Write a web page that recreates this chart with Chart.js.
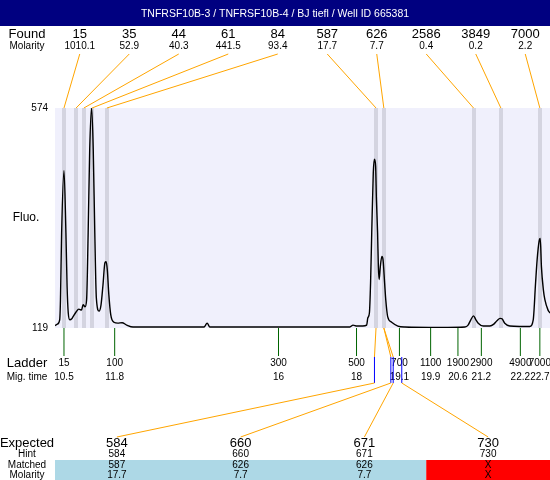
<!DOCTYPE html>
<html>
<head>
<meta charset="utf-8">
<script src="https://cdn.jsdelivr.net/npm/chart.js@4"></script>
<style>
  html, body { margin: 0; padding: 0; background: #fff; }
  #wrap { width: 550px; height: 480px; }
</style>
</head>
<body>
<div id="wrap"><canvas id="chart" width="550" height="480"></canvas></div>
<script>
const TITLE = 'TNFRSF10B-3 / TNFRSF10B-4 / BJ tiefl / Well ID 665381';

// found peaks
const foundSizes    = ['15', '35', '44', '61', '84', '587', '626', '2586', '3849', '7000'];
const foundMolarity = ['1010.1', '52.9', '40.3', '441.5', '93.4', '17.7', '7.7', '0.4', '0.2', '2.2'];
const foundTimes    = [10.50, 10.81, 11.01, 11.22, 11.60, 18.50, 18.70, 21.00, 21.70, 22.70];

// ladder
const ladderSizes = ['15', '100', '300', '500', '700', '1100', '1900', '2900', '4900', '7000'];
const ladderTimes = [10.5, 11.8, 16, 18, 19.1, 19.9, 20.6, 21.2, 22.2, 22.7];
const ladderLabels = ['10.5', '11.8', '16', '18', '19.1', '19.9', '20.6', '21.2', '22.2', '22.7'];

// expected fragments
const expectedSizes    = ['584', '660', '671', '730'];
const expectedHints    = ['584', '660', '671', '730'];
const expectedTimes    = [18.46, 18.88, 18.94, 19.16];
const matchedSizes     = ['587', '626', '626', 'X'];
const matchedMolarity  = ['17.7', '7.7', '7.7', 'X'];
const matchedTimes     = [18.50, 18.70, 18.70, null];

// electropherogram trace
const traceTimes = [
  10.27, 10.33, 10.39, 10.41, 10.44, 10.50, 10.55, 10.58, 10.61, 10.65,
  10.70, 10.73, 10.81, 10.88, 10.95, 10.99, 11.04, 11.08, 11.12, 11.16,
  11.21, 11.25, 11.29, 11.33, 11.40, 11.45, 11.50, 11.55, 11.58, 11.61,
  11.65, 11.70, 11.78, 11.88, 11.99, 12.11, 12.27, 14.09, 14.17, 14.24,
  17.83, 17.91, 18.01, 18.16, 18.26, 18.29, 18.33, 18.36, 18.39, 18.43,
  18.46, 18.49, 18.51, 18.54, 18.56, 18.58, 18.61, 18.65, 18.68, 18.72,
  18.75, 18.80, 18.90, 19.06, 19.24, 20.14, 20.78, 20.86, 20.93, 21.00,
  21.06, 21.12, 21.25, 21.42, 21.52, 21.60, 21.68, 21.73, 21.80, 21.93,
  22.18, 22.44, 22.53, 22.59, 22.63, 22.68, 22.71, 22.74, 22.79, 22.83,
  22.91, 22.96
];
const traceFluo = [
  124, 127, 136, 177, 316, 445, 316, 205, 150, 136,
  138, 142, 152, 158, 156, 167, 163, 177, 316, 489,
  574, 489, 316, 181, 154, 167, 208, 254, 256, 240,
  188, 146, 131, 129, 130, 125, 121, 121, 129, 121,
  121, 125, 123, 123, 125, 140, 150, 212, 316, 441,
  468, 453, 385, 316, 246, 219, 246, 267, 260, 212,
  177, 142, 131, 123, 121, 120, 121, 125, 136, 144,
  136, 129, 123, 123, 127, 134, 139, 138, 129, 123,
  122, 122, 136, 212, 260, 298, 304, 246, 198, 177,
  156, 150
];

const FONT = "'Liberation Sans', Arial, sans-serif";
const ORANGE = '#ffa500';

function txt(ctx, s, x, y, size, align, color) {
  ctx.font = size + 'px ' + FONT;
  ctx.textAlign = align || 'center';
  ctx.textBaseline = 'middle';
  ctx.fillStyle = color || '#000';
  ctx.fillText(s, x, y);
}

function line(ctx, x1, y1, x2, y2, color) {
  ctx.strokeStyle = color;
  ctx.lineWidth = 1;
  ctx.beginPath();
  ctx.moveTo(x1, y1);
  ctx.lineTo(x2, y2);
  ctx.stroke();
}

const backdrop = {
  id: 'backdrop',
  beforeDraw(chart) {
    const { ctx, chartArea: a, scales: { x } } = chart;
    ctx.save();
    ctx.fillStyle = '#fff';
    ctx.fillRect(0, 0, chart.width, chart.height);
    ctx.fillStyle = '#000080';
    ctx.fillRect(0, 0, chart.width, 26);
    txt(ctx, TITLE, chart.width / 2, 14, 10.5, 'center', '#fff');

    ctx.fillStyle = '#f0f0fc';
    ctx.fillRect(a.left, a.top, a.right - a.left, a.bottom - a.top);
    ctx.fillStyle = '#d4d4e0';
    foundTimes.forEach(t => {
      const px = Math.round(x.getPixelForValue(t));
      ctx.fillRect(px - 2, a.top, 4, a.bottom - a.top);
    });
    ctx.restore();
  }
};

const annotations = {
  id: 'annotations',
  afterDraw(chart) {
    const { ctx, chartArea: a, scales: { x } } = chart;
    const slot = (a.right - a.left) / foundSizes.length;
    ctx.save();

    // found row
    txt(ctx, 'Found', 27, 34, 13);
    txt(ctx, 'Molarity', 27, 46, 10);
    foundSizes.forEach((s, i) => {
      const cx = a.left + slot * (i + 0.5);
      txt(ctx, s, cx, 34, 13);
      txt(ctx, foundMolarity[i], cx, 46, 10);
      line(ctx, cx, 54, x.getPixelForValue(foundTimes[i]), a.top, ORANGE);
    });

    txt(ctx, 'Fluo.', 26, 218, 12);

    // ladder
    txt(ctx, 'Ladder', 27, 363, 13);
    txt(ctx, 'Mig. time', 27, 377, 10);
    ladderTimes.forEach((t, i) => {
      const px = x.getPixelForValue(t);
      line(ctx, px, a.bottom, px, 356, '#006400');
      txt(ctx, ladderSizes[i], px, 363, 10);
      txt(ctx, ladderLabels[i], px, 377, 10);
    });

    // expected / matched
    const col = (a.right - a.left) / expectedSizes.length;
    ctx.fillStyle = '#add8e6';
    ctx.fillRect(a.left, 460, col * 3, 20);
    ctx.fillStyle = '#ff0000';
    ctx.fillRect(a.left + col * 3, 460, col, 20);

    txt(ctx, 'Expected', 27, 443, 13);
    txt(ctx, 'Hint', 27, 454, 10);
    txt(ctx, 'Matched', 27, 465, 10);
    txt(ctx, 'Molarity', 27, 475, 10);

    expectedSizes.forEach((s, i) => {
      const cx = a.left + col * (i + 0.5);
      const ex = x.getPixelForValue(expectedTimes[i]);
      if (matchedTimes[i] !== null) {
        line(ctx, x.getPixelForValue(matchedTimes[i]), a.bottom, ex, 357, ORANGE);
      }
      line(ctx, ex, 357, ex, 383, '#0000ff');
      line(ctx, ex, 383, cx, 437, ORANGE);
      txt(ctx, s, cx, 443, 13);
      txt(ctx, expectedHints[i], cx, 454, 10);
      txt(ctx, matchedSizes[i], cx, 465, 10);
      txt(ctx, matchedMolarity[i], cx, 475, 10);
    });
    ctx.restore();
  }
};

Chart.defaults.font.family = FONT;
Chart.defaults.color = '#000';

new Chart(document.getElementById('chart'), {
  type: 'line',
  data: {
    datasets: [{
      data: traceTimes.map((t, i) => ({ x: t, y: traceFluo[i] })),
      borderColor: '#000',
      borderWidth: 1.4,
      pointRadius: 0,
      cubicInterpolationMode: 'monotone',
      fill: false,
    }]
  },
  options: {
    responsive: false,
    animation: false,
    layout: { padding: { top: 108, bottom: 152, left: 0, right: 0 } },
    plugins: {
      legend: { display: false },
      title: { display: false },
      tooltip: { enabled: false }
    },
    scales: {
      x: {
        type: 'linear',
        min: 10.27,
        max: 22.96,
        display: false
      },
      y: {
        min: 119,
        max: 574,
        afterBuildTicks: s => { s.ticks = [{ value: 119 }, { value: 574 }]; },
        afterFit: s => { s.width = 55; },
        grid: { display: false, drawTicks: false },
        border: { display: false },
        ticks: { padding: 7, font: { size: 10 }, color: '#000' }
      }
    }
  },
  plugins: [backdrop, annotations]
});
</script>
</body>
</html>
